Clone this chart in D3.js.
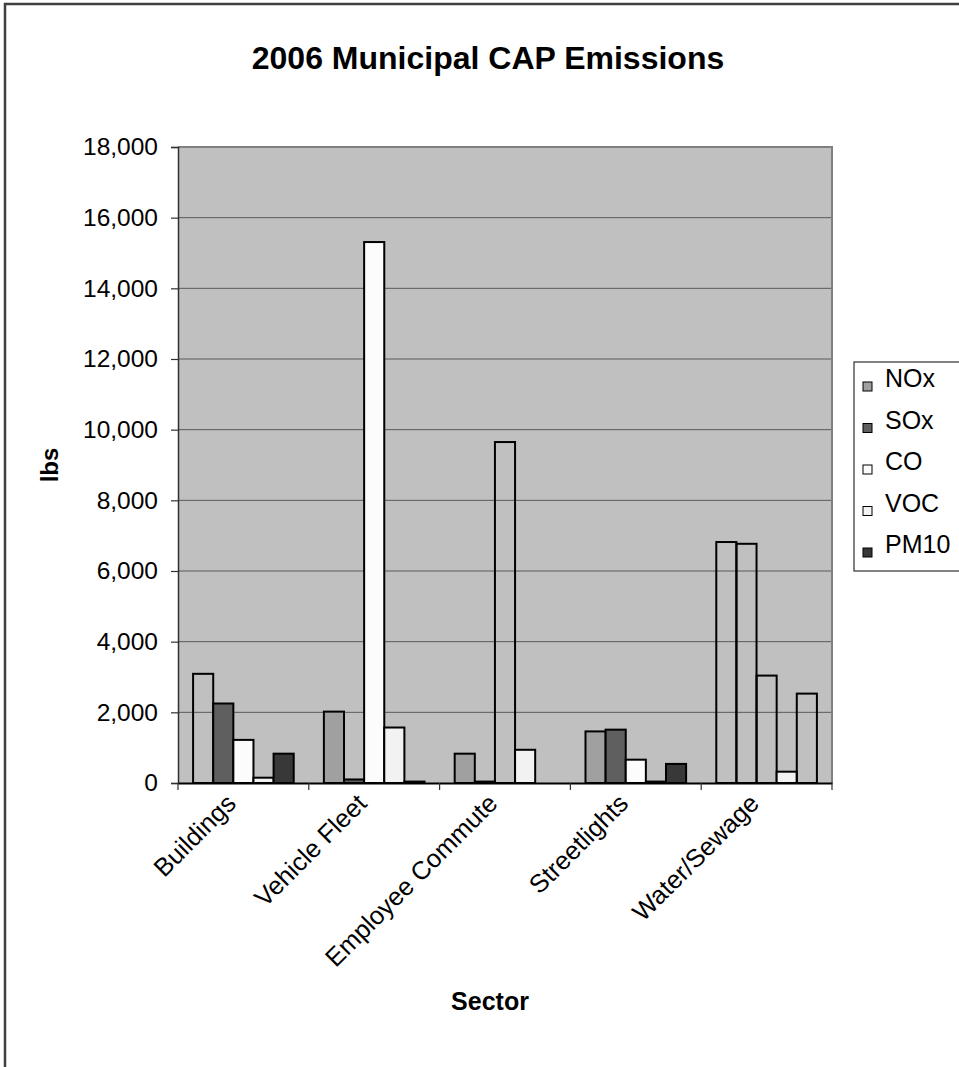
<!DOCTYPE html>
<html>
<head>
<meta charset="utf-8">
<script src="https://cdn.jsdelivr.net/npm/d3@7"></script>
<style>
  html, body { margin: 0; padding: 0; background: #fff; }
  svg { display: block; font-family: "Liberation Sans", Arial, sans-serif; }
</style>
</head>
<body>
<svg id="chart" width="959" height="1067"></svg>
<script>
// Sectors along the x axis
const categories = ["Buildings", "Vehicle Fleet", "Employee Commute", "Streetlights", "Water/Sewage"];

// Pollutant series (lbs), one value per sector
const series = ["NOx", "SOx", "CO", "VOC", "PM10"];
const NOx  = [3090, 2020, 830, 1460, 6820];
const SOx  = [2250, 100, 40, 1510, 6770];
const CO   = [1220, 15310, 9650, 660, 3040];
const VOC  = [150, 1570, 940, 40, 320];
const PM10 = [830, 40, 0, 540, 2530];

// Y axis ticks
const yTicks = [0, 2000, 4000, 6000, 8000, 10000, 12000, 14000, 16000, 18000];

const seriesValues = { NOx, SOx, CO, VOC, PM10 };
const fills = { NOx: "#a0a0a0", SOx: "#5f5f5f", CO: "#fcfcfc", VOC: "#f2f2f2", PM10: "#383838" };
// bars drawn as outlines only
const outlineOnly = new Set([
  "Buildings|NOx", "Employee Commute|CO",
  "Water/Sewage|NOx", "Water/Sewage|SOx", "Water/Sewage|CO", "Water/Sewage|PM10"
]);

const svg = d3.select("#chart");
const plot = { left: 178, right: 832, top: 147, bottom: 783 };

// outer frame
svg.append("path")
  .attr("d", "M5,1067 L5,4 L959,4")
  .attr("fill", "none").attr("stroke", "#404040").attr("stroke-width", 2.5);

// title
svg.append("text")
  .attr("x", 488).attr("y", 69)
  .attr("text-anchor", "middle")
  .attr("font-size", 32).attr("font-weight", "bold")
  .text("2006 Municipal CAP Emissions");

const x0 = d3.scaleBand().domain(categories).range([plot.left, plot.right]);
const x1 = d3.scaleBand().domain(series).range([0, x0.bandwidth()]).paddingInner(0).paddingOuter(0.75);
const y = d3.scaleLinear().domain([0, 18000]).range([plot.bottom, plot.top]);

// plot background
svg.append("rect")
  .attr("x", plot.left).attr("y", plot.top)
  .attr("width", plot.right - plot.left).attr("height", plot.bottom - plot.top)
  .attr("fill", "#c0c0c0");

// gridlines
svg.append("g").selectAll("line")
  .data(yTicks.filter(d => d > 0 && d < 18000))
  .join("line")
  .attr("x1", plot.left).attr("x2", plot.right)
  .attr("y1", d => y(d)).attr("y2", d => y(d))
  .attr("stroke", "#5a5a5a").attr("stroke-width", 1);

// plot border (top and right)
svg.append("path")
  .attr("d", `M${plot.left},${plot.top} L${plot.right},${plot.top} L${plot.right},${plot.bottom}`)
  .attr("fill", "none").attr("stroke", "#808080").attr("stroke-width", 2);

// bars
const groups = svg.append("g").selectAll("g")
  .data(categories)
  .join("g")
  .attr("transform", d => `translate(${x0(d)},0)`);

groups.selectAll("rect")
  .data((c, i) => series.map(s => ({ cat: c, key: s, value: seriesValues[s][i] })))
  .join("rect")
  .filter(d => d.value > 0)
  .attr("x", d => x1(d.key))
  .attr("y", d => y(d.value))
  .attr("width", x1.bandwidth())
  .attr("height", d => y(0) - y(d.value))
  .attr("fill", d => outlineOnly.has(d.cat + "|" + d.key) ? "none" : fills[d.key])
  .attr("stroke", "#000").attr("stroke-width", 2);

// y axis
const yAxis = svg.append("g")
  .attr("transform", `translate(${plot.left},0)`)
  .call(d3.axisLeft(y).tickValues(yTicks).tickFormat(d3.format(",")).tickSize(7).tickPadding(13));
yAxis.select(".domain").attr("stroke", "#303030").attr("stroke-width", 1.5);
yAxis.selectAll(".tick line").attr("stroke", "#303030").attr("stroke-width", 1.2);
yAxis.selectAll(".tick text")
  .attr("font-size", 24.5).attr("fill", "#000")
  .attr("font-family", "Liberation Sans, Arial, sans-serif");

// x axis
const xAxis = svg.append("g")
  .attr("transform", `translate(0,${plot.bottom})`)
  .call(d3.axisBottom(x0).tickSize(0).tickFormat(""));
xAxis.select(".domain").attr("stroke", "#000").attr("stroke-width", 2);
xAxis.selectAll(".sep")
  .data(d3.range(categories.length + 1))
  .join("line")
  .attr("class", "sep")
  .attr("x1", i => plot.left + i * x0.step()).attr("x2", i => plot.left + i * x0.step())
  .attr("y1", 0).attr("y2", 7)
  .attr("stroke", "#303030").attr("stroke-width", 1.2);

// category labels
svg.append("g").selectAll("text")
  .data(categories)
  .join("text")
  .attr("transform", d => `translate(${x0(d) + x0.bandwidth() / 2 - 6},${plot.bottom + 22}) rotate(-45)`)
  .attr("text-anchor", "end")
  .attr("font-size", 25.5)
  .text(d => d);

// axis titles
svg.append("text")
  .attr("transform", `translate(58,465) rotate(-90)`)
  .attr("text-anchor", "middle")
  .attr("font-size", 24).attr("font-weight", "bold")
  .text("lbs");

svg.append("text")
  .attr("x", 490).attr("y", 1010)
  .attr("text-anchor", "middle")
  .attr("font-size", 25).attr("font-weight", "bold")
  .text("Sector");

// legend
const legend = svg.append("g");
legend.append("rect")
  .attr("x", 854).attr("y", 362)
  .attr("width", 120).attr("height", 209)
  .attr("fill", "#fff").attr("stroke", "#303030").attr("stroke-width", 1.2);

const items = legend.selectAll("g.item")
  .data(series)
  .join("g")
  .attr("class", "item")
  .attr("transform", (d, i) => `translate(863,${387 + i * 41.5})`);
items.append("rect")
  .attr("x", 0).attr("y", -5).attr("width", 9).attr("height", 9)
  .attr("fill", d => fills[d]).attr("stroke", "#000").attr("stroke-width", 1);
items.append("text")
  .attr("x", 22).attr("y", 0)
  .attr("font-size", 25)
  .text(d => d);
</script>
</body>
</html>
